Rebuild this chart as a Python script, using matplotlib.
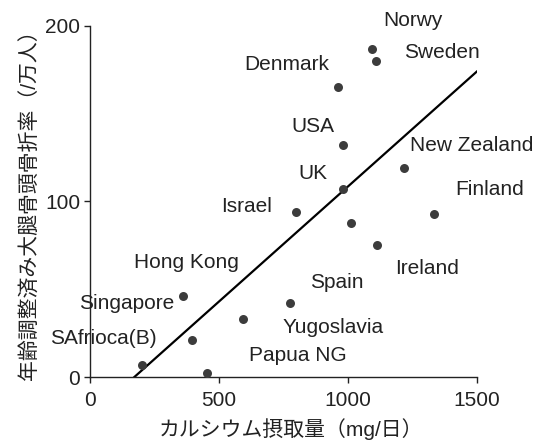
import matplotlib
matplotlib.use("Agg")
import matplotlib.pyplot as plt

plt.rcParams['font.family'] = ['Liberation Sans', 'Noto Sans CJK JP', 'DejaVu Sans']

# Calcium intake (mg/day) vs. age-adjusted hip fracture rate (per 10,000)
countries = ["Norwy", "Sweden", "Denmark", "USA", "New Zealand", "UK", "Finland",
             "Israel", "Ireland", "Spain", "Yugoslavia", "Papua NG",
             "Hong Kong", "Singapore", "SAfrioca(B)"]
calcium = [1092, 1109, 962, 979, 1218, 982, 1333, 798, 1114, 775, 594, 455, 362, 396, 203]
fracture = [187, 180, 165, 132, 119, 107, 93, 94, 75, 42, 33, 2, 46, 21, 7]
# one unlabelled point
extra_calcium = [1012]
extra_fracture = [88]

# label anchor positions in data units
label_x = [1251, 1363, 763, 863, 1479, 863, 1550, 607, 1307, 956, 943, 806, 374, 142, 52]
label_y = [203, 185, 178, 143, 132, 116, 107, 97, 62, 54, 28, 12.5, 65, 42, 22]

# regression line end points
line_x = [172, 1499]
line_y = [0, 174]

fig = plt.figure(figsize=(5.38, 4.45), dpi=100)
ax = fig.add_axes([0.1673, 0.1528, 0.7193, 0.7888])

ax.plot(line_x, line_y, color='black', lw=1.6, zorder=2)
ax.scatter(calcium + extra_calcium, fracture + extra_fracture, s=42,
           color='#3c3c3c', zorder=3, linewidths=0)

for name, lx, ly in zip(countries, label_x, label_y):
    ax.text(lx, ly, name, ha='center', va='center', fontsize=15,
            color='#222222', clip_on=False)

ax.set_xlim(0, 1500)
ax.set_ylim(0, 200)
ax.set_xticks([0, 500, 1000, 1500])
ax.set_yticks([0, 100, 200])
ax.spines['top'].set_visible(False)
ax.spines['right'].set_visible(False)
for s in ('left', 'bottom'):
    ax.spines[s].set_linewidth(1.0)
    ax.spines[s].set_color('#222222')
ax.tick_params(direction='out', length=4, width=1.0, labelsize=15,
               colors='#222222')
ax.tick_params(axis='x', pad=6)
ax.tick_params(axis='y', pad=3)

ax.set_xlabel('カルシウム摂取量（mg/日）', fontsize=15, color='#222222')
ax.set_ylabel('年齢調整済み大腿骨頭骨折率（/万人）', fontsize=15, color='#222222')
ax.xaxis.set_label_coords(0.518, -0.1165)
ax.yaxis.set_label_coords(-0.13, 0.506)

fig.savefig('out.png', dpi=100, facecolor='white')
